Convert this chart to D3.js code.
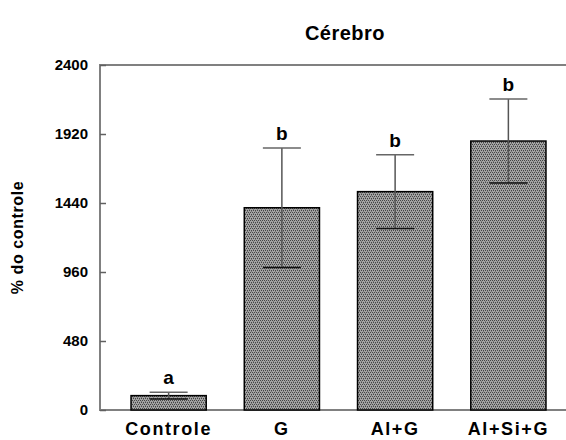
<!DOCTYPE html>
<html>
<head>
<meta charset="utf-8">
<script src="https://cdn.jsdelivr.net/npm/d3@7"></script>
<style>
  body { margin: 0; background: #fff; }
  text { font-family: Arial, "Liberation Sans", sans-serif; font-weight: bold; fill: #000; }
</style>
</head>
<body>
<script>
var categories = ["Controle", "G", "Al+G", "Al+Si+G"];
var means = [100, 1407, 1519, 1871];
var errors = [24, 415, 257, 292];
var letters = ["a", "b", "b", "b"];
var yTicks = [0, 480, 960, 1440, 1920, 2400];

var w = 566, h = 440;
var plotLeft = 100, plotTop = 65, plotBottom = 410, plotRight = 577;

var svg = d3.select("body").append("svg")
    .attr("width", w)
    .attr("height", h);

// checkered hatch used by SigmaPlot style bars
var defs = svg.append("defs");
var pat = defs.append("pattern")
    .attr("id", "hatch")
    .attr("patternUnits", "userSpaceOnUse")
    .attr("width", 4)
    .attr("height", 4);
pat.append("rect").attr("width", 4).attr("height", 4).attr("fill", "#a4a4a4");
[[0, 0], [2, 0], [1, 2], [3, 2]].forEach(function(p) {
  pat.append("rect").attr("x", p[0]).attr("y", p[1]).attr("width", 1).attr("height", 1).attr("fill", "#454545");
});
[[1, 1], [3, 3]].forEach(function(p) {
  pat.append("rect").attr("x", p[0]).attr("y", p[1]).attr("width", 1).attr("height", 1).attr("fill", "#777");
});

var x = d3.scaleBand()
    .domain(categories)
    .range([plotLeft, plotRight])
    .paddingInner(0.336)
    .paddingOuter(0.274);

var y = d3.scaleLinear()
    .domain([0, 2400])
    .range([plotBottom, plotTop]);

// frame: left axis, top and bottom lines
svg.append("path")
    .attr("d", "M" + plotRight + "," + plotTop + "H" + plotLeft + "V" + plotBottom + "H" + plotRight)
    .attr("fill", "none")
    .attr("stroke", "#808080")
    .attr("stroke-width", 2);

var yAxis = d3.axisLeft(y)
    .tickValues(yTicks)
    .tickFormat(d3.format("d"))
    .tickSize(-6)
    .tickPadding(12);

var ga = svg.append("g")
    .attr("transform", "translate(" + plotLeft + ",0)")
    .call(yAxis);
ga.select(".domain").remove();
ga.selectAll(".tick line").attr("stroke", "#606060").attr("stroke-width", 1.5);
ga.selectAll(".tick text")
    .attr("font-size", 15)
    .attr("font-family", "Arial, 'Liberation Sans', sans-serif")
    .attr("font-weight", "bold")
    .attr("x", -12);

// bars
svg.selectAll("rect.bar")
    .data(categories)
    .enter().append("rect")
    .attr("class", "bar")
    .attr("x", function(d) { return x(d); })
    .attr("y", function(d, i) { return y(means[i]); })
    .attr("width", x.bandwidth())
    .attr("height", function(d, i) { return plotBottom - y(means[i]); })
    .attr("fill", "url(#hatch)")
    .attr("stroke", "#000")
    .attr("stroke-width", 1.5);

// error bars
var cap = 19;
categories.forEach(function(c, i) {
  var cx = x(c) + x.bandwidth() / 2;
  var hi = y(means[i] + errors[i]), lo = y(means[i] - errors[i]);
  svg.append("line")
      .attr("x1", cx).attr("x2", cx)
      .attr("y1", hi).attr("y2", lo)
      .attr("stroke", "#555").attr("stroke-width", 1.5);
  svg.append("line")
      .attr("x1", cx - cap).attr("x2", cx + cap)
      .attr("y1", hi).attr("y2", hi)
      .attr("stroke", "#666").attr("stroke-width", 1.5);
  svg.append("line")
      .attr("x1", cx - cap).attr("x2", cx + cap)
      .attr("y1", lo).attr("y2", lo)
      .attr("stroke", "#111").attr("stroke-width", 1.5);
  svg.append("text")
      .attr("x", cx)
      .attr("y", hi - 8)
      .attr("text-anchor", "middle")
      .attr("font-size", 19)
      .text(letters[i]);
});

// category labels
svg.selectAll("text.cat")
    .data(categories)
    .enter().append("text")
    .attr("class", "cat")
    .attr("x", function(d) { return x(d) + x.bandwidth() / 2; })
    .attr("y", 435)
    .attr("text-anchor", "middle")
    .attr("font-size", 18)
    .attr("letter-spacing", 1.6)
    .text(function(d) { return d; });

// title
svg.append("text")
    .attr("x", 345)
    .attr("y", 40)
    .attr("text-anchor", "middle")
    .attr("font-size", 20)
    .attr("letter-spacing", 0.5)
    .text("Cérebro");

// y label
svg.append("text")
    .attr("transform", "translate(23," + ((plotTop + plotBottom) / 2) + ") rotate(-90)")
    .attr("text-anchor", "middle")
    .attr("font-size", 16)
    .attr("letter-spacing", 0.6)
    .text("% do controle");
</script>
</body>
</html>
